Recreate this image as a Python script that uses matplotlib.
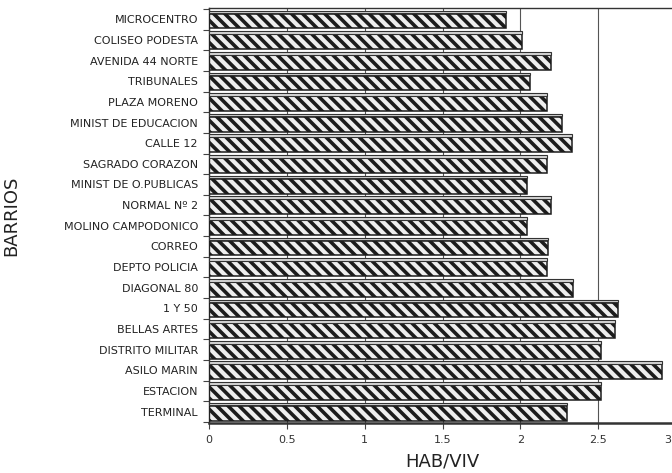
import numpy as np
import matplotlib
matplotlib.use("Agg")
import matplotlib.pyplot as plt
from matplotlib.transforms import ScaledTranslation

# barrios, top to bottom as printed
barrios = ["MICROCENTRO", "COLISEO PODESTA", "AVENIDA 44 NORTE", "TRIBUNALES",
           "PLAZA MORENO", "MINIST DE EDUCACION", "CALLE 12", "SAGRADO CORAZON",
           "MINIST DE O.PUBLICAS", "NORMAL Nº 2", "MOLINO CAMPODONICO", "CORREO",
           "DEPTO POLICIA", "DIAGONAL 80", "1 Y 50", "BELLAS ARTES",
           "DISTRITO MILITAR", "ASILO MARIN", "ESTACION", "TERMINAL"]
hab_viv = [1.91, 2.01, 2.20, 2.06, 2.17, 2.27, 2.33, 2.17, 2.04, 2.20,
           2.04, 2.18, 2.17, 2.34, 2.63, 2.61, 2.52, 2.91, 2.52, 2.30]
xticks = [0, 0.5, 1, 1.5, 2, 2.5, 3]
xtick_labels = ["0", "0.5", "1", "1.5", "2", "2.5", "3"]

plt.rcParams['font.family'] = ['DejaVu Sans']
plt.rcParams['hatch.linewidth'] = 2.6

fig = plt.figure(figsize=(6.72, 4.73), dpi=100)
# the source scan cuts the axis just past 3, like the original page
ax = fig.add_axes([0.311, 0.106, 0.695, 0.877])

y = np.arange(len(barrios))
face_h = 0.72
# hatched front face
ax.barh(y + 0.08, hab_viv, height=face_h, color='#eeeeee',
        edgecolor='#1c1c1c', hatch='\\\\\\', linewidth=0, zorder=2)
ax.barh(y + 0.08, hab_viv, height=face_h, fill=False,
        edgecolor='#1c1c1c', linewidth=1.1, zorder=3)
# light top strip (pseudo 3d)
ax.barh(y - 0.36, hab_viv, height=0.13, color='#d8d8d8',
        edgecolor='#333333', linewidth=0.8, zorder=3)

ax.set_xlim(0, 3)
ax.set_ylim(len(barrios) - 0.45, -0.55)

ax.set_xticks(xticks)
ax.set_xticklabels(xtick_labels, fontsize=8, color='#333333')
ax.set_yticks(y)
ax.set_yticklabels(barrios, fontsize=8, color='#222222')
ax.set_yticks(np.arange(len(barrios) + 1) - 0.5, minor=True)
ax.tick_params(axis='y', which='major', length=0, pad=8)
ax.tick_params(axis='y', which='minor', length=4, width=0.8, color='#444444')
ax.tick_params(axis='x', length=4, width=0.8, color='#444444', pad=5)

ax.grid(axis='x', color='#555555', linewidth=0.8, zorder=0)
ax.set_axisbelow(True)

for side in ['left', 'top']:
    ax.spines[side].set_color('#333333')
    ax.spines[side].set_linewidth(1.0)
ax.spines['bottom'].set_color('#333333')
ax.spines['bottom'].set_linewidth(1.8)
ax.spines['right'].set_visible(False)

ax.set_xlabel("HAB/VIV", fontsize=13, color='#222222', labelpad=5)
ax.set_ylabel("BARRIOS", fontsize=13, color='#222222')
ax.yaxis.set_label_coords(-0.405, 0.5)

# last label would fall off the page edge, nudge it inside
fig.canvas.draw()
last = ax.xaxis.get_major_ticks()[-1].label1
last.set_transform(last.get_transform()
                   + ScaledTranslation(-0.08, 0, fig.dpi_scale_trans))

fig.savefig("out.png", dpi=100)
